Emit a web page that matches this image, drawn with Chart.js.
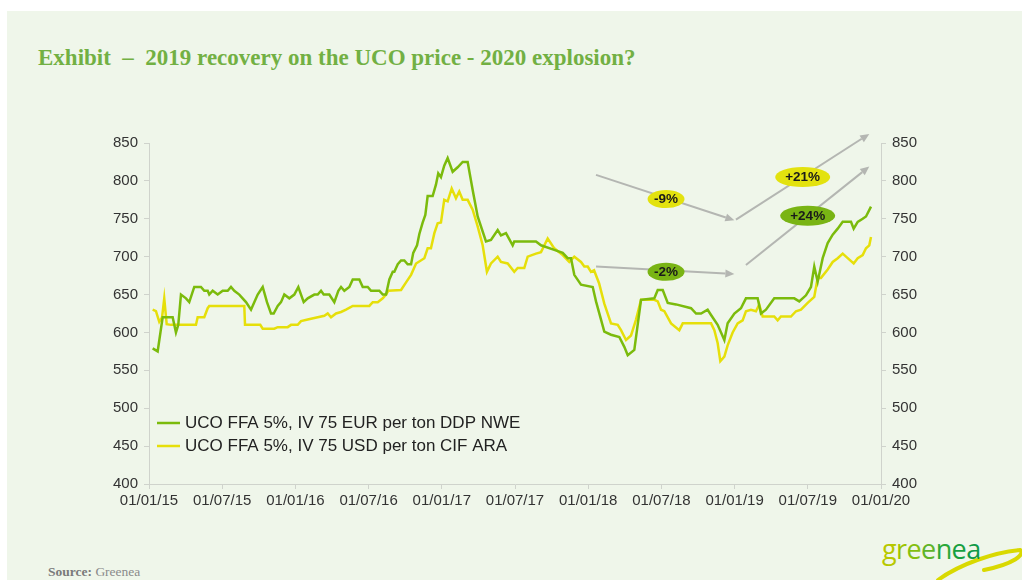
<!DOCTYPE html>
<html>
<head>
<meta charset="utf-8">
<script src="https://cdn.jsdelivr.net/npm/chart.js@4.4.1/dist/chart.umd.min.js"></script>
<style>
  html, body { margin: 0; padding: 0; background: #ffffff; }
  body { width: 1022px; height: 580px; position: relative; overflow: hidden; font-family: "Liberation Sans", Arial, sans-serif; }
  #panel { position: absolute; left: 7px; top: 11px; right: 0; bottom: 0; background: #eff6ea; }
  #title { position: absolute; left: 38px; top: 45px; font-family: "Liberation Serif", "DejaVu Serif", serif; font-weight: bold; font-size: 23px; color: #72b043; white-space: pre; }
  #source { position: absolute; left: 48px; top: 564px; font-family: "Liberation Serif", serif; font-size: 13.5px; color: #8a8a8a; }
  #source b { color: #7a7a7a; }
  #logo { position: absolute; left: 880px; top: 528px; width: 142px; height: 52px; }
  #logo .txt { position: absolute; left: 2px; top: 2px; font-family: "Open Sans", "DejaVu Sans", sans-serif; font-size: 27px; letter-spacing: -0.6px; }
  canvas { position: absolute; left: 0; top: 0; }
</style>
</head>
<body>
<div id="panel"></div>
<div id="title">Exhibit  –  2019 recovery on the UCO price - 2020 explosion?</div>
<div id="source"><b>Source:</b> Greenea</div>
<div id="logo">
  <svg width="142" height="52" style="position:absolute;left:0;top:0">
    <path d="M58 52 C 80 36, 115 24, 140 22 C 146 26, 134 36, 104 42" fill="none" stroke="#d9d900" stroke-width="4" stroke-linecap="round"/>
  </svg>
  <span class="txt"><span style="color:#b7c800">g</span><span style="color:#9cc400">r</span><span style="color:#84bf10">e</span><span style="color:#5fb428">e</span><span style="color:#2aa838">n</span><span style="color:#17a040">e</span><span style="color:#109a48">a</span></span>
</div>
<canvas id="c" width="1022" height="580"></canvas>
<script>
// ---------- DATA ----------
// x values are months since 01/01/2015
const eurMonths = [0.3,0.71,1.12,1.94,2.21,2.4,2.62,3.03,3.3,3.71,4.26,4.53,4.81,4.94,5.22,5.63,6.04,6.45,6.72,6.99,7.4,7.95,8.36,8.63,8.91,9.32,9.67,10.0,10.22,10.55,10.82,11.09,11.5,11.91,12.24,12.68,13.01,13.55,13.83,14.1,14.32,14.78,15.19,15.52,15.74,16.01,16.42,16.7,17.24,17.52,17.93,18.2,18.88,19.16,19.43,19.7,19.98,20.11,20.39,20.66,20.93,21.2,21.48,21.66,21.97,22.16,22.43,22.65,22.84,23.25,23.52,23.71,23.93,24.2,24.48,24.89,25.3,25.71,26.12,26.53,26.94,27.62,28.03,28.58,28.85,29.26,29.81,29.94,31.72,32.13,33.22,33.91,34.32,34.59,34.86,35.41,36.37,36.64,37.32,37.87,38.55,38.96,39.24,39.78,40.33,41.42,41.7,42.11,42.52,43.2,44.43,44.84,45.25,45.79,46.07,46.61,47.16,47.43,47.98,48.52,48.93,49.89,50.16,50.57,51.25,52.89,53.3,53.85,54.26,54.53,54.81,55.22,55.63,56.04,56.45,56.86,57.54,57.76,58.09,58.5,58.77,59.18];
const eurValues = [579,575,620,620,600,610,650,645,640,660,660,655,655,650,655,650,655,655,660,655,650,640,630,640,650,660,640,625,625,635,640,650,645,650,660,640,645,650,650,655,650,650,640,655,660,655,660,670,670,660,660,655,655,650,650,670,680,680,690,695,695,690,690,705,715,730,745,755,780,780,795,810,805,820,830,812,818,825,825,788,753,720,722,735,728,731,715,720,720,715,709,705,698,698,676,663,660,641,601,597,594,581,570,577,643,645,656,656,639,637,632,625,625,630,623,610,590,612,625,632,645,645,625,630,645,645,641,649,660,687,667,698,718,729,737,746,746,737,746,750,753,766];

const usdMonths = [0.3,0.57,0.84,1.07,1.25,1.45,1.8,3.85,3.99,4.53,4.81,4.94,7.81,7.87,9.12,9.32,10.27,10.55,11.37,11.64,12.19,12.46,13.01,13.83,14.37,14.65,14.92,15.33,15.74,16.15,16.7,18.06,18.34,18.75,19.16,19.43,19.61,20.66,21.07,21.48,21.89,22.57,22.84,23.11,23.39,23.66,23.93,24.2,24.48,24.81,25.16,25.43,25.71,26.12,26.53,26.94,27.35,27.7,28.03,28.58,28.85,29.4,29.94,30.22,30.76,31.04,31.72,32.13,32.68,33.22,33.91,34.45,34.86,35.41,35.68,35.96,36.23,36.48,36.89,37.32,37.87,38.42,38.69,39.1,39.51,39.92,40.33,41.42,41.7,41.97,42.24,42.79,43.47,43.75,46.07,46.34,46.61,46.83,47.16,47.43,47.84,48.25,48.66,48.93,49.34,49.75,50.02,50.3,51.25,51.53,51.8,52.62,53.03,53.44,53.99,54.53,54.81,55.08,55.63,56.04,56.45,56.86,57.27,57.76,58.09,58.5,58.77,59.04,59.18];
const usdValues = [630,628,614,620,645,611,610,610,620,620,632,635,635,610,610,605,605,607,607,610,610,615,617,620,622,625,620,625,627,630,635,635,640,640,645,650,655,656,666,676,691,698,711,711,731,744,745,775,773,790,777,786,775,775,762,740,715,680,691,700,693,691,680,685,685,700,704,706,724,711,702,693,700,693,687,687,680,682,665,638,612,610,603,590,596,617,643,643,641,630,628,612,603,612,612,603,586,562,568,583,600,612,616,628,630,628,637,621,621,616,621,621,628,630,639,647,672,672,683,693,698,704,698,691,698,702,711,715,726];

const tickMonths = [0,6,12,18,24,30,36,42,48,54,60];
const tickLabels = ['01/01/15','01/07/15','01/01/16','01/07/16','01/01/17','01/07/17','01/01/18','01/07/18','01/01/19','01/07/19','01/01/20'];

const seriesNames = ['UCO FFA 5%, IV 75 EUR per ton DDP NWE', 'UCO FFA 5%, IV 75 USD per ton CIF ARA'];

// Arrows: [fromMonth, fromValue, toMonth, toValue]
const arrows = [
  [36.64, 808, 47.98, 748],
  [48.11, 749, 59.04, 862],
  [36.64, 687, 47.98, 677],
  [48.93, 689, 59.04, 819]
];
// Labels: text, month, value, kind
const badgeTexts = ['-9%', '+21%', '-2%', '+24%'];
const badgeMonths = [42.38, 53.58, 42.38, 53.99];
const badgeValues = [776, 805, 680, 754];
const badgeKinds = ['yellow', 'yellow', 'green', 'green'];

// ---------- STYLE ----------
const GREEN = '#7bbb0c';
const YELLOW = '#e6df0a';
const AXIS = '#cfd3cc';
const FONT = '"Liberation Sans", Arial, sans-serif';

const toXY = (xs, ys) => xs.map((x, i) => ({x: x, y: ys[i]}));

const overlay = {
  id: 'overlay',
  afterDatasetsDraw(chart) {
    const ctx = chart.ctx;
    const xs = chart.scales.x, ys = chart.scales.y;
    ctx.save();
    ctx.strokeStyle = '#b4b6b2';
    ctx.fillStyle = '#b4b6b2';
    ctx.lineWidth = 2;
    arrows.forEach(a => {
      const x1 = xs.getPixelForValue(a[0]), y1 = ys.getPixelForValue(a[1]);
      const x2 = xs.getPixelForValue(a[2]), y2 = ys.getPixelForValue(a[3]);
      const ang = Math.atan2(y2 - y1, x2 - x1);
      const hl = 9, hw = 4;
      const bx = x2 - hl * Math.cos(ang), by = y2 - hl * Math.sin(ang);
      ctx.beginPath();
      ctx.moveTo(x1, y1);
      ctx.lineTo(bx, by);
      ctx.stroke();
      ctx.beginPath();
      ctx.moveTo(x2, y2);
      ctx.lineTo(bx + hw * Math.sin(ang), by - hw * Math.cos(ang));
      ctx.lineTo(bx - hw * Math.sin(ang), by + hw * Math.cos(ang));
      ctx.closePath();
      ctx.fill();
    });
    badgeTexts.forEach((t, i) => {
      const cx = xs.getPixelForValue(badgeMonths[i]), cy = ys.getPixelForValue(badgeValues[i]);
      const big = t.length > 3;
      const rx = big ? 27.5 : 18.5, ry = big ? 10 : 9;
      ctx.beginPath();
      ctx.ellipse(cx, cy, rx, ry, 0, 0, Math.PI * 2);
      ctx.fillStyle = badgeKinds[i] === 'yellow' ? '#e3e20e' : '#79b414';
      ctx.fill();
      ctx.fillStyle = '#1a1a1a';
      ctx.font = 'bold 13.5px ' + FONT;
      ctx.textAlign = 'center';
      ctx.textBaseline = 'middle';
      ctx.fillText(t, cx, cy + 0.5);
    });
    ctx.restore();
  },
  afterDraw(chart) {
    const ctx = chart.ctx, area = chart.chartArea;
    ctx.save();
    chart.data.datasets.forEach((ds, i) => {
      const y = area.bottom - 61 + i * 23;
      ctx.strokeStyle = ds.borderColor;
      ctx.lineWidth = 2.5;
      ctx.beginPath();
      ctx.moveTo(area.left + 8, y);
      ctx.lineTo(area.left + 31, y);
      ctx.stroke();
      ctx.fillStyle = '#222222';
      ctx.font = '17px ' + FONT;
      ctx.textAlign = 'left';
      ctx.textBaseline = 'middle';
      ctx.fillText(ds.label, area.left + 36, y);
    });
    ctx.restore();
  }
};

const tickFont = { family: FONT, size: 15 };

new Chart(document.getElementById('c'), {
  type: 'line',
  data: {
    datasets: [
      { label: seriesNames[0], data: toXY(eurMonths, eurValues), borderColor: GREEN, borderWidth: 2.5, pointRadius: 0, tension: 0, yAxisID: 'y' },
      { label: seriesNames[1], data: toXY(usdMonths, usdValues), borderColor: YELLOW, borderWidth: 2.5, pointRadius: 0, tension: 0, yAxisID: 'y2' }
    ]
  },
  options: {
    responsive: false,
    animation: false,
    layout: { padding: { top: 143, left: 0, right: 0, bottom: 0 } },
    plugins: { legend: { display: false }, tooltip: { enabled: false }, title: { display: false } },
    scales: {
      x: {
        type: 'linear', min: 0, max: 60,
        afterBuildTicks(s) { s.ticks = tickMonths.map(v => ({ value: v })); },
        afterFit(s) { s.height = 96; },
        ticks: { callback: (v) => tickLabels[tickMonths.indexOf(v)], font: tickFont, color: '#333333', maxRotation: 0, autoSkip: false, padding: 3 },
        grid: { drawOnChartArea: false, drawTicks: true, tickLength: 5, color: AXIS },
        border: { display: true, color: AXIS, width: 1 }
      },
      y: {
        position: 'left', min: 400, max: 850,
        afterFit(s) { s.width = 149; },
        ticks: { stepSize: 50, font: tickFont, color: '#333333', padding: 6 },
        grid: { drawOnChartArea: false, drawTicks: true, tickLength: 5, color: AXIS },
        border: { display: true, color: AXIS, width: 1 }
      },
      y2: {
        position: 'right', min: 400, max: 850,
        afterFit(s) { s.width = 141; },
        ticks: { stepSize: 50, font: tickFont, color: '#333333', padding: 6 },
        grid: { drawOnChartArea: false, drawTicks: true, tickLength: 5, color: AXIS },
        border: { display: true, color: AXIS, width: 1 }
      }
    }
  },
  plugins: [overlay]
});
</script>
</body>
</html>
